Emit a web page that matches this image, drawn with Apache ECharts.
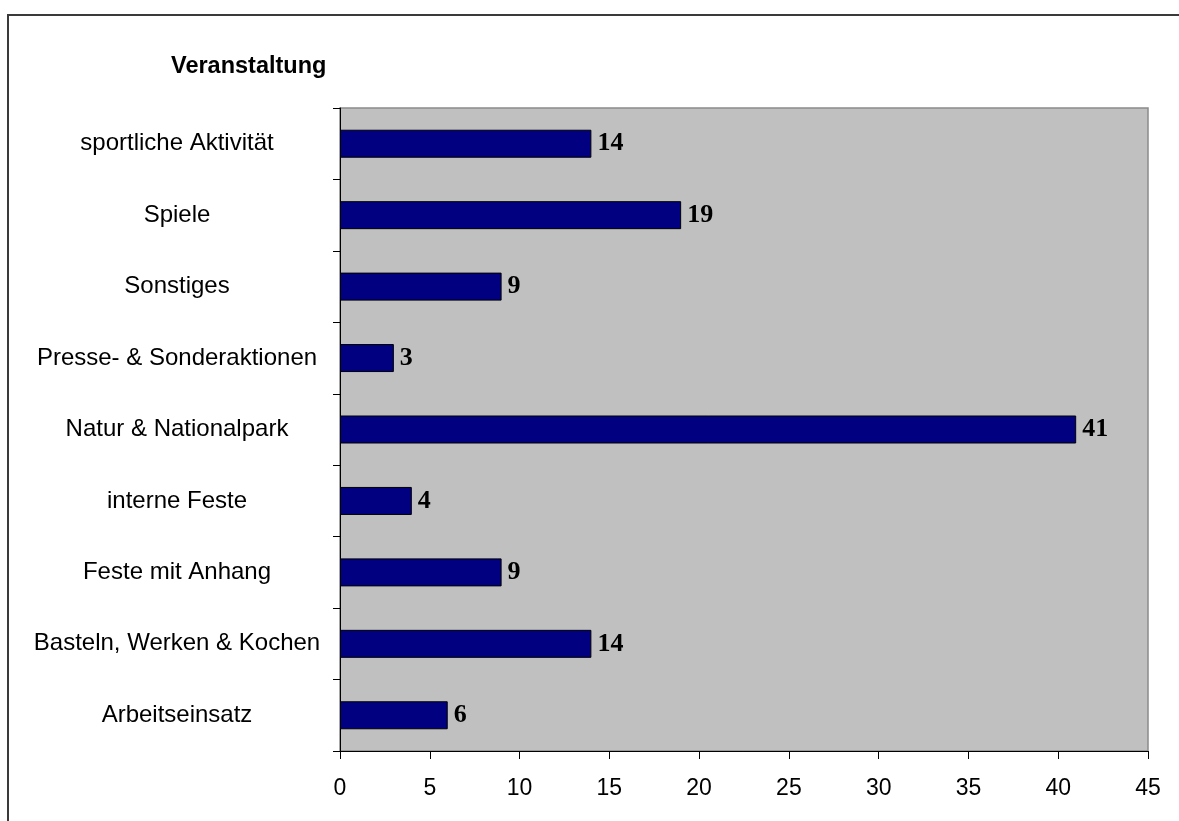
<!DOCTYPE html>
<html>
<head>
<meta charset="utf-8">
<script src="https://cdn.jsdelivr.net/npm/echarts@6/dist/echarts.min.js"></script>
<style>
  html, body { margin: 0; padding: 0; background: #ffffff; }
  #chart { width: 1179px; height: 821px; }
</style>
</head>
<body>
<div id="chart"></div>
<script>
// Event categories, listed bottom to top as drawn on the category axis
const categories = [
  'Arbeitseinsatz',
  'Basteln, Werken & Kochen',
  'Feste mit Anhang',
  'interne Feste',
  'Natur & Nationalpark',
  'Presse- & Sonderaktionen',
  'Sonstiges',
  'Spiele',
  'sportliche Aktivität'
];
// Number of events per category
const counts = [6, 14, 9, 4, 41, 3, 9, 19, 14];
// Value axis range and step
const xMin = 0;
const xMax = 45;
const xStep = 5;

const chart = echarts.init(document.getElementById('chart'), null, { renderer: 'canvas' });

chart.setOption({
  backgroundColor: '#ffffff',
  animation: false,
  title: {
    text: 'Veranstaltung',
    left: 166,
    top: 50,
    textStyle: {
      fontFamily: 'Liberation Sans, Arial, sans-serif',
      fontWeight: 'bold',
      fontSize: 23.5,
      color: '#000000'
    }
  },
  graphic: [{
    type: 'rect',
    silent: true,
    shape: { x: 8, y: 15, width: 1400, height: 1000 },
    style: { fill: 'none', stroke: '#3a3a3a', lineWidth: 2 }
  }],
  grid: {
    left: 340,
    top: 108,
    right: 31,
    bottom: 70,
    show: true,
    backgroundColor: '#c0c0c0',
    borderColor: '#8a8a8a',
    borderWidth: 1.5
  },
  xAxis: {
    type: 'value',
    min: xMin,
    max: xMax,
    interval: xStep,
    splitLine: { show: false },
    axisLine: { show: true, lineStyle: { color: '#000000', width: 1 } },
    axisTick: { show: true, length: 8, lineStyle: { color: '#000000' } },
    axisLabel: {
      margin: 26,
      fontFamily: 'Liberation Sans, Arial, sans-serif',
      fontSize: 23,
      color: '#000000'
    }
  },
  yAxis: {
    type: 'category',
    data: categories,
    axisLine: { show: true, lineStyle: { color: '#000000', width: 1 } },
    axisTick: { show: true, length: 7, lineStyle: { color: '#000000' } },
    splitLine: { show: false },
    axisLabel: {
      margin: 163,
      align: 'center',
      fontFamily: 'Liberation Sans, Arial, sans-serif',
      fontSize: 24,
      color: '#000000'
    }
  },
  series: [{
    type: 'bar',
    data: counts,
    barWidth: 28,
    itemStyle: {
      color: '#000080',
      borderColor: '#000000',
      borderWidth: 1
    },
    label: {
      show: true,
      position: 'right',
      distance: 6,
      fontFamily: 'Liberation Serif, Times New Roman, serif',
      fontWeight: 'bold',
      fontSize: 26,
      color: '#000000'
    }
  }]
});
</script>
</body>
</html>
